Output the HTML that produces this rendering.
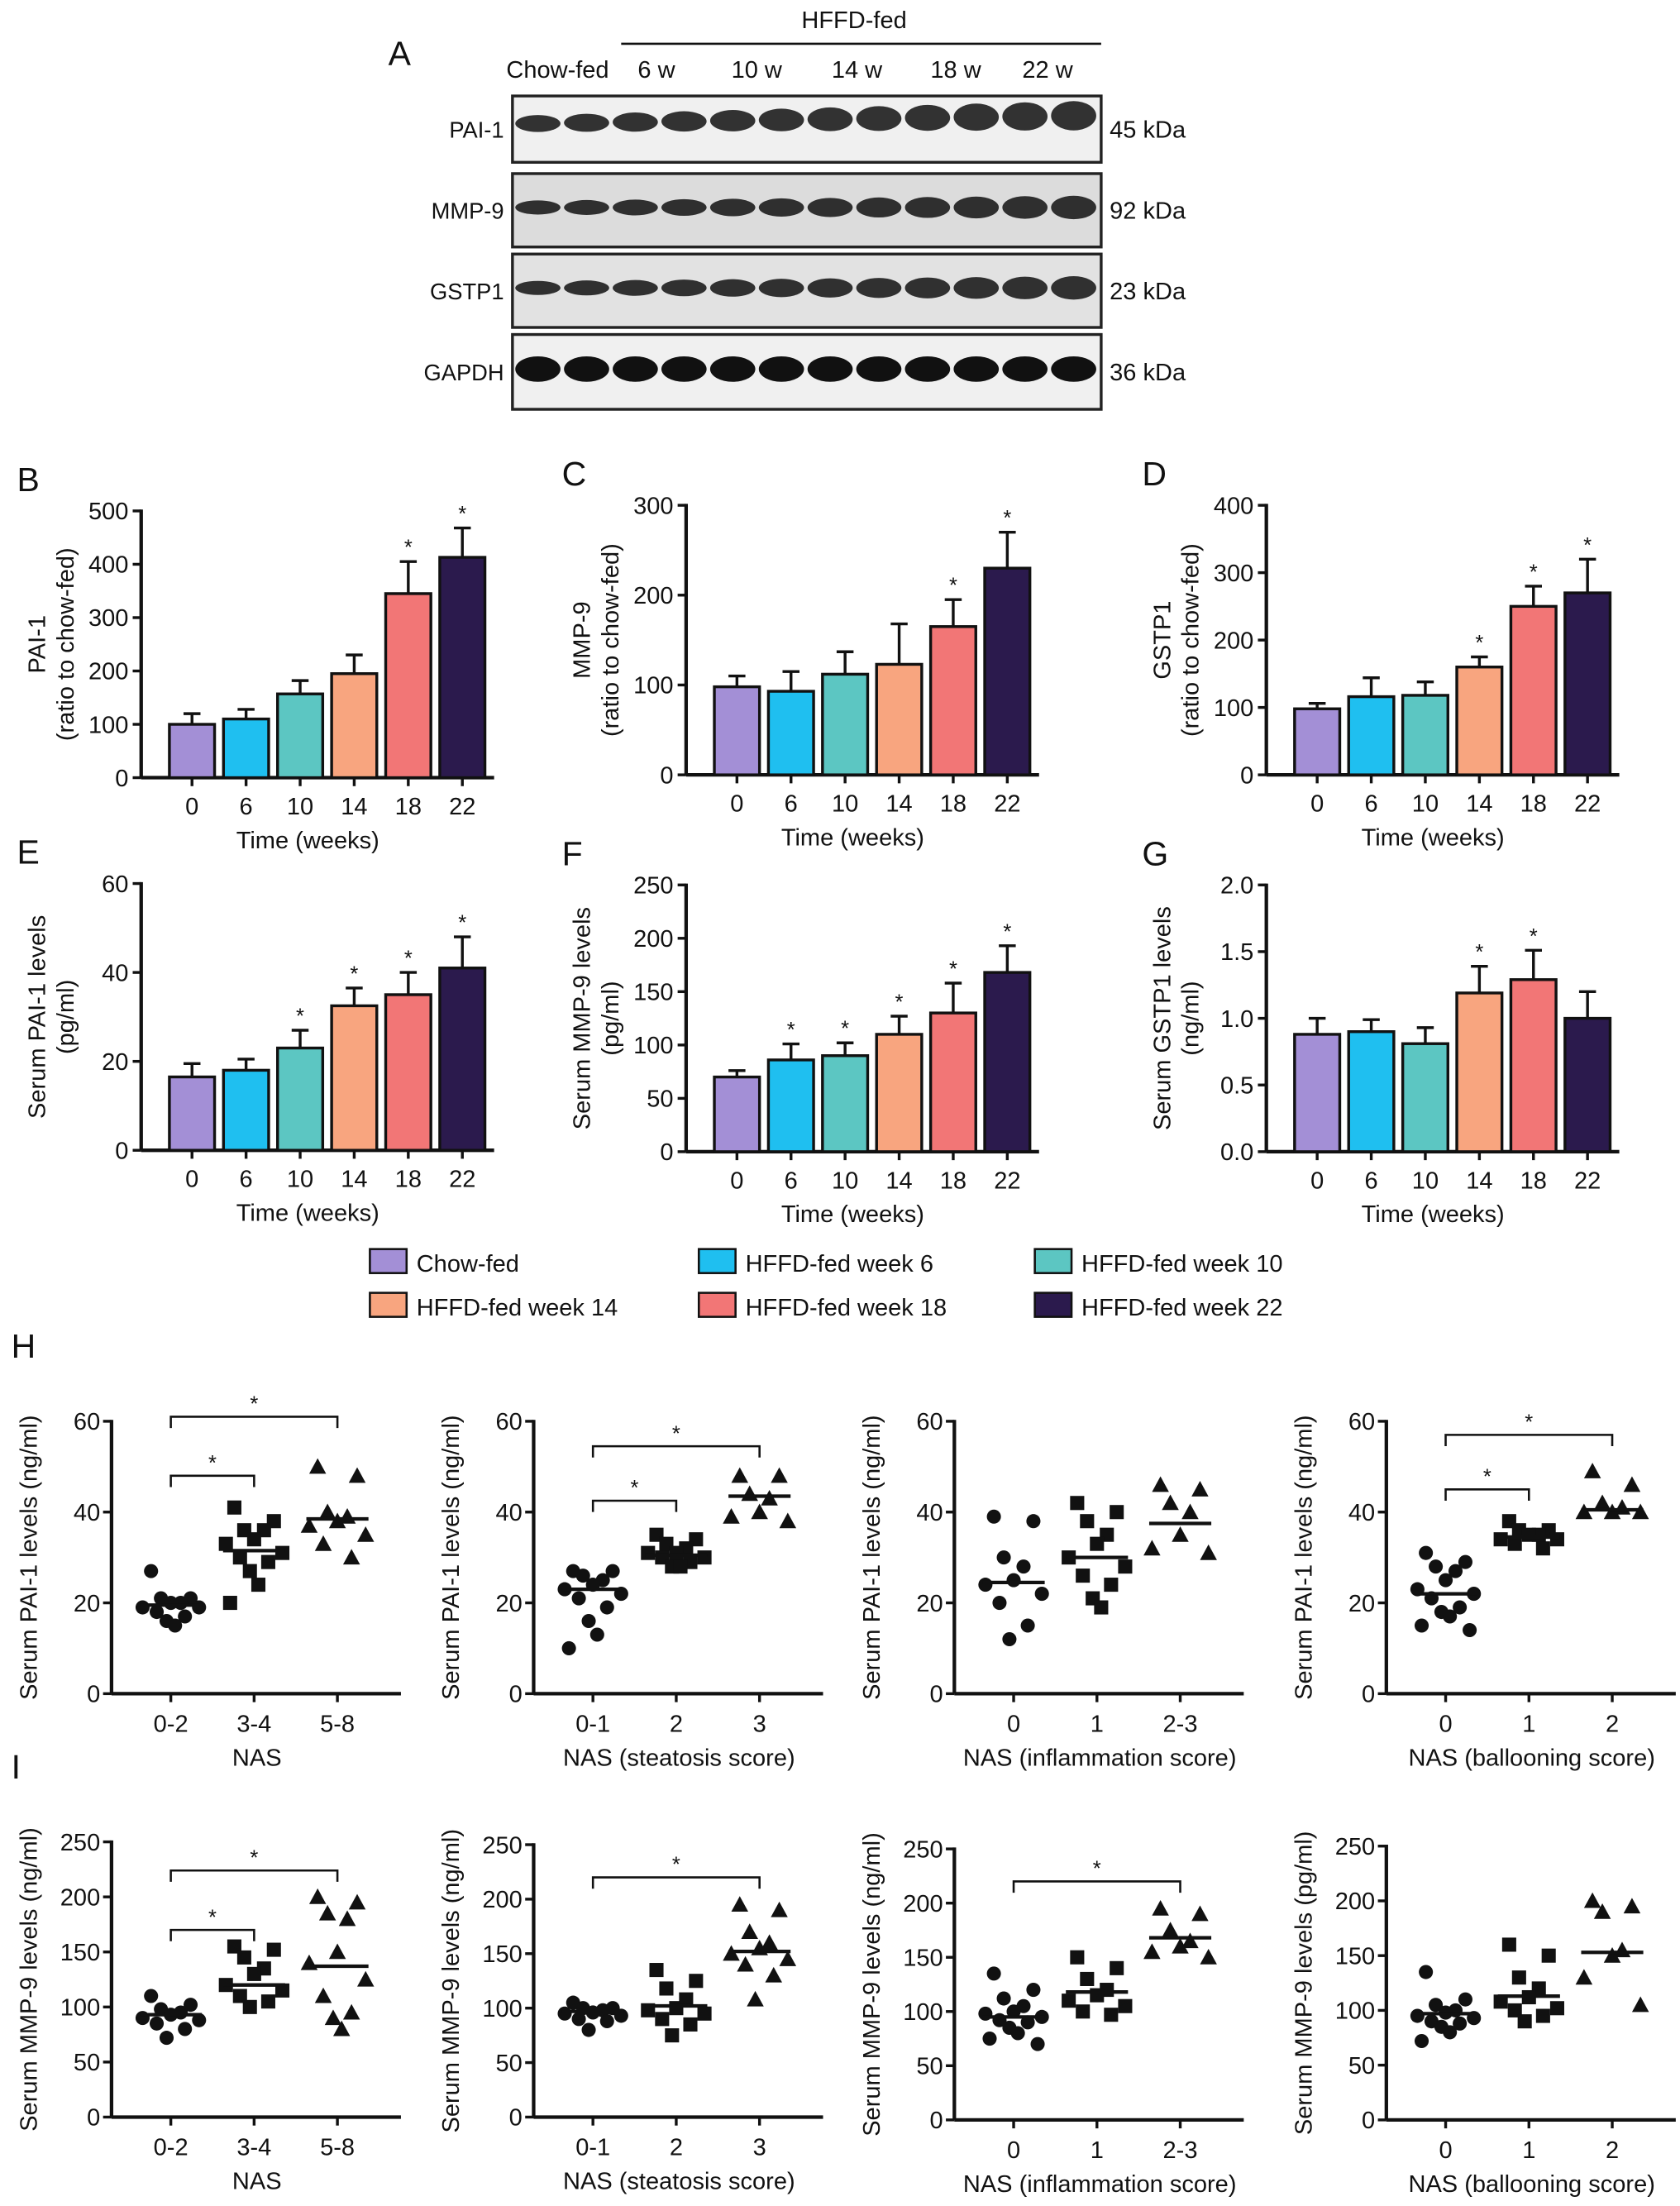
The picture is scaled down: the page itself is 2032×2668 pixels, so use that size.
<!DOCTYPE html>
<html><head><meta charset="utf-8"><style>
html,body{margin:0;padding:0;background:#fff}
svg{display:block}
text{font-family:"Liberation Sans",Arial,sans-serif;fill:#111}
</style></head><body>
<svg id="fig" width="2032" height="2668" viewBox="0 0 1190 1563" preserveAspectRatio="none" xmlns="http://www.w3.org/2000/svg">
<g id="root"></g>
</svg>
<script>
// ---- Bar chart data ----
const barCats = ['0','6','10','14','18','22'];
const barColors = ['#a38fd6','#1fbff0','#5cc6c2','#f8a57f','#f27676','#2b1a4d'];
const bValues = [100,110,157,195,345,413];
const bErrors = [20,18,25,35,60,55];
const bStars = [0,0,0,0,1,1];
const cValues = [98,93,112,123,165,230];
const cErrors = [12,22,25,45,30,40];
const cStars = [0,0,0,0,1,1];
const dValues = [98,116,118,160,250,270];
const dErrors = [8,28,20,15,30,50];
const dStars = [0,0,0,1,1,1];
const eValues = [16.5,18,23,32.5,35,41];
const eErrors = [3,2.5,4,4,5,7];
const eStars = [0,0,1,1,1,1];
const fValues = [70,86,90,110,130,168];
const fErrors = [6,15,12,17,28,25];
const fStars = [0,1,1,1,1,1];
const gValues = [0.88,0.90,0.81,1.19,1.29,1.0];
const gErrors = [0.12,0.09,0.12,0.2,0.22,0.2];
const gStars = [0,0,0,1,1,0];
const ticks500 = [0,100,200,300,400,500];
const ticks300 = [0,100,200,300];
const ticks400 = [0,100,200,300,400];
const ticks60 = [0,20,40,60];
const ticks250 = [0,50,100,150,200,250];
const ticks2 = ['0.0','0.5','1.0','1.5','2.0'];
// ---- Scatter data ----
const h1G0=[27,21,21,20,20,19,19,18,17,16,15], h1G1=[41,38,36,36,34,33,31,30,29,27,24,20], h1G2=[50,48,40,39,38,37,35,33,30];
const h1Means=[19.5,31.5,38.5];
const h2G0=[27,27,26,25,24,23,22,21,19,16,13,10], h2G1=[35,34,33,32,31,31,30,30,29,28,28], h2G2=[48,48,44,43,40,39,38];
const h2Means=[23,30.5,43.5];
const h3G0=[39,38,30,28,25,24,22,20,15,12], h3G1=[42,40,38,35,33,30,28,26,24,21,19], h3G2=[46,45,42,40,35,32,31];
const h3Means=[24.5,30,37.5];
const h4G0=[31,29,28,27,25,23,22,21,19,18,17,15,14], h4G1=[38,36,36,35,35,34,34,33,32], h4G2=[49,46,42,41,40,40,40];
const h4Means=[22,34.5,40.5];
const i1G0=[110,102,98,95,93,90,88,85,80,72], i1G1=[155,152,145,135,130,120,115,110,105,100], i1G2=[200,195,185,180,150,140,125,110,95,90,80];
const i1Means=[93,120,137];
const i2G0=[105,100,100,98,96,95,93,90,88,80], i2G1=[135,125,118,108,100,98,95,90,85,75], i2G2=[195,190,170,160,155,150,145,140,130,108];
const i2Means=[97,102,152];
const i3G0=[135,120,112,105,100,98,95,92,90,85,80,75,70], i3G1=[150,140,130,120,115,110,105,100,97], i3G2=[195,190,175,165,160,155,150];
const i3Means=[95,118,168];
const i4G0=[135,110,105,100,98,95,93,90,88,85,80,72], i4G1=[160,150,130,120,112,108,102,100,95,90], i4G2=[200,195,190,155,150,130,105];
const i4Means=[97,113,153];
const catsNAS=['0-2','3-4','5-8'], catsSteat=['0-1','2','3'], catsInfl=['0','1','2-3'], catsBall=['0','1','2'];

const NS='http://www.w3.org/2000/svg';
const root=document.getElementById('root');
function mk(tag,attrs,parent){const e=document.createElementNS(NS,tag);for(const k in attrs)e.setAttribute(k,attrs[k]);(parent||root).appendChild(e);return e;}
function txt(x,y,s,size,anchor,parent,rot){const t=mk('text',{x:x,y:y,'font-size':size,'text-anchor':anchor||'middle'},parent);if(rot)t.setAttribute('transform','rotate(-90 '+x+' '+y+')');t.textContent=s;return t;}

// ---- Panel A: western blot ----
(function(){
  const g=mk('g',{});
  
  
  const l=txt(283,46,'A',24,'middle',g);
  
  
  txt(605,20,'HFFD-fed',17,'middle',g);
  mk('line',{x1:440,y1:31,x2:780,y2:31,stroke:'#111','stroke-width':1.5},g);
  const cols=[['Chow-fed',395],['6 w',465],['10 w',536],['14 w',607],['18 w',677],['22 w',742]];
  cols.forEach(c=>{const t=txt(c[1],55,c[0],17,'middle',g);});
  const rows=[['PAI-1','45 kDa',68,115,0.75],['MMP-9','92 kDa',123,175,0.9],['GSTP1','23 kDa',180,232,0.8],['GAPDH','36 kDa',237,290,1]];
  rows.forEach((r,ri)=>{
    const bg=ri==1?'#dcdcdc':(ri==2?'#e2e2e2':'#f0f0f0');
    const box=mk('rect',{x:363,y:r[2],width:417,height:r[3]-r[2],fill:bg,stroke:'#222','stroke-width':2},g);
    
    
    txt(357,(r[2]+r[3])/2+6,r[0],16,'end',g);
    txt(786,(r[2]+r[3])/2+6,r[1],17,'start',g);
    const cy=ri==0?(r[2]+r[3])/2-4:(r[2]+r[3])/2-2;
    for(let i=0;i<12;i++){
      const cx=381+i*34.5;
      const h=(ri==3?9:(ri==0?6+i*0.4:5+i*0.3));
      mk('ellipse',{cx:cx,cy:cy-(ri==0?i*0.5:0),rx:16,ry:h,fill:'#111',opacity:ri==3?1:0.85},g);
    }
  });
})();

// ---- bar panels ----
function barPanel(name,letter,ax,y0,yTop,max,ticks,tickLabels,vals,errs,stars,ytitle1,ytitle2){
  const g=mk('g',{});
  
  
  const ys=v=>y0-(v/max)*(y0-yTop);
  const xs=i=>ax+36+i*38.3;
  const L=txt(ax-88,yTop-14,letter,24,'start',g);
  
  
  mk('line',{x1:ax,y1:yTop-1,x2:ax,y2:y0,stroke:'#111','stroke-width':2.5},g);
  mk('line',{x1:ax,y1:y0,x2:ax+250,y2:y0,stroke:'#111','stroke-width':2.5},g);
  ticks.forEach((t,i)=>{const y=ys(t);mk('line',{x1:ax-6,y1:y,x2:ax,y2:y,stroke:'#111','stroke-width':2},g);
    const tl=txt(ax-9,y+6,tickLabels[i],17,'end',g);});
  vals.forEach((v,i)=>{
    const x=xs(i), top=ys(v), et=ys(v+errs[i]);
    mk('line',{x1:x,y1:top,x2:x,y2:et,stroke:'#111','stroke-width':2},g);
    mk('line',{x1:x-6,y1:et,x2:x+6,y2:et,stroke:'#111','stroke-width':2},g);
    const b=mk('rect',{x:x-16,y:top,width:32,height:y0-top,fill:barColors[i],stroke:'#111','stroke-width':2},g);
    
    
    if(stars[i]){const s=txt(x,et-5,'*',15,'middle',g);}
    mk('line',{x1:x,y1:y0,x2:x,y2:y0+6,stroke:'#111','stroke-width':2},g);
    const xl=txt(x,y0+26,barCats[i],17,'middle',g);
    
    
  });
  const xt=txt(ax+118,y0+50,'Time (weeks)',17,'middle',g);
  
  
  const mid=(y0+yTop)/2;
  if(ytitle2){
    const a=txt(ax-68,mid,ytitle1,17,'middle',g,true);
    txt(ax-48,mid,ytitle2,17,'middle',g,true);
  } else {
    const a=txt(ax-55,mid,ytitle1,17,'middle',g,true);
  }
}
barPanel('pai1-bar-chart','B',100,551,362,500,ticks500,ticks500.map(String),bValues,bErrors,bStars,'PAI-1','(ratio to chow-fed)');
barPanel('mmp9-bar-chart','C',486,549,358,300,ticks300,ticks300.map(String),cValues,cErrors,cStars,'MMP-9','(ratio to chow-fed)');
barPanel('gstp1-bar-chart','D',897,549,358,400,ticks400,ticks400.map(String),dValues,dErrors,dStars,'GSTP1','(ratio to chow-fed)');
barPanel('serum-pai1-bar-chart','E',100,815,626,60,ticks60,ticks60.map(String),eValues,eErrors,eStars,'Serum PAI-1 levels','(pg/ml)');
barPanel('serum-mmp9-bar-chart','F',486,816,627,250,ticks250,ticks250.map(String),fValues,fErrors,fStars,'Serum MMP-9 levels','(pg/ml)');
barPanel('serum-gstp1-bar-chart','G',897,816,627,2,[0,0.5,1,1.5,2],ticks2,gValues,gErrors,gStars,'Serum GSTP1 levels','(ng/ml)');

// ---- legend ----
(function(){
  const g=mk('g',{});
  
  
  const items=[['Chow-fed',262,894],['HFFD-fed week 6',495,894],['HFFD-fed week 10',733,894],['HFFD-fed week 14',262,925],['HFFD-fed week 18',495,925],['HFFD-fed week 22',733,925]];
  items.forEach((it,i)=>{
    const e=mk('g',{},g);
    
    
    mk('rect',{x:it[1],y:it[2]-9,width:26,height:17,fill:barColors[i],stroke:'#111','stroke-width':1.5},e);
    txt(it[1]+33,it[2]+7,it[0],17,'start',e);
  });
})();

// ---- scatter panels ----
function scatter(name,letter,ax,y0,yTop,max,ticks,groups,means,cats,ytitle,xtitle,brackets){
  const g=mk('g',{});
  
  
  const ys=v=>y0-(v/max)*(y0-yTop);
  const xs=i=>ax+42+i*59;
  if(letter){const L=txt(8,yTop-45,letter,24,'start',g);}
  mk('line',{x1:ax,y1:yTop-1,x2:ax,y2:y0,stroke:'#111','stroke-width':2.5},g);
  mk('line',{x1:ax,y1:y0,x2:ax+205,y2:y0,stroke:'#111','stroke-width':2.5},g);
  ticks.forEach(t=>{const y=ys(t);mk('line',{x1:ax-6,y1:y,x2:ax,y2:y,stroke:'#111','stroke-width':2},g);
    const tl=txt(ax-8,y+6,String(t),17,'end',g);});
  groups.forEach((arr,gi)=>{
    const cx=xs(gi);
    mk('line',{x1:cx,y1:y0,x2:cx,y2:y0+6,stroke:'#111','stroke-width':2},g);
    const xl=txt(cx,y0+27,cats[gi],17,'middle',g);
    
    
    arr.forEach((v,j)=>{
      const off=[-14,14,-7,7,0,-20,20,-10,10,-3,3,-17,17][j%13];
      const x=cx+off, y=ys(v);
      let m;
      if(gi==0) m=mk('circle',{cx:x,cy:y,r:5,fill:'#111'},g);
      else if(gi==1) m=mk('rect',{x:x-5,y:y-5,width:10,height:10,fill:'#111'},g);
      else m=mk('polygon',{points:(x)+','+(y-6)+' '+(x-6)+','+(y+5)+' '+(x+6)+','+(y+5),fill:'#111'},g);
      
      
    });
    const ml=mk('line',{x1:cx-22,y1:ys(means[gi]),x2:cx+22,y2:ys(means[gi]),stroke:'#111','stroke-width':2.5},g);
    
    
  });
  (brackets||[]).forEach(b=>{
    const y=ys(b[2]), x1=xs(b[0]), x2=xs(b[1]);
    const p=mk('path',{d:'M'+x1+' '+(y+8)+'V'+y+'H'+x2+'V'+(y+8),fill:'none',stroke:'#111','stroke-width':1.5},g);
    
    
    txt((x1+x2)/2,y-4,'*',15,'middle',g);
  });
  const yt=txt(ax-53,(y0+yTop)/2,ytitle,17,'middle',g,true);
  
  
  const xt=txt(ax+103,y0+51,xtitle,17,'middle',g);
  
  
}
scatter('pai1-nas-scatter','H',79,1200,1007,60,ticks60,[h1G0,h1G1,h1G2],h1Means,catsNAS,'Serum PAI-1 levels (ng/ml)','NAS',[[0,1,48],[0,2,61]]);
scatter('pai1-steatosis-scatter',null,378,1200,1007,60,ticks60,[h2G0,h2G1,h2G2],h2Means,catsSteat,'Serum PAI-1 levels (ng/ml)','NAS (steatosis score)',[[0,1,42.5],[0,2,54.5]]);
scatter('pai1-inflammation-scatter',null,676,1200,1007,60,ticks60,[h3G0,h3G1,h3G2],h3Means,catsInfl,'Serum PAI-1 levels (ng/ml)','NAS (inflammation score)',[]);
scatter('pai1-ballooning-scatter',null,982,1200,1007,60,ticks60,[h4G0,h4G1,h4G2],h4Means,catsBall,'Serum PAI-1 levels (ng/ml)','NAS (ballooning score)',[[0,1,45],[0,2,57]]);
scatter('mmp9-nas-scatter','I',79,1500,1305,250,ticks250,[i1G0,i1G1,i1G2],i1Means,catsNAS,'Serum MMP-9 levels (ng/ml)','NAS',[[0,1,170],[0,2,224]]);
scatter('mmp9-steatosis-scatter',null,378,1500,1307,250,ticks250,[i2G0,i2G1,i2G2],i2Means,catsSteat,'Serum MMP-9 levels (ng/ml)','NAS (steatosis score)',[[0,2,220]]);
scatter('mmp9-inflammation-scatter',null,676,1502,1310,250,ticks250,[i3G0,i3G1,i3G2],i3Means,catsInfl,'Serum MMP-9 levels (ng/ml)','NAS (inflammation score)',[[0,2,220]]);
scatter('mmp9-ballooning-scatter',null,982,1502,1308,250,ticks250,[i4G0,i4G1,i4G2],i4Means,catsBall,'Serum MMP-9 levels (pg/ml)','NAS (ballooning score)',[]);
</script>
</body></html>
